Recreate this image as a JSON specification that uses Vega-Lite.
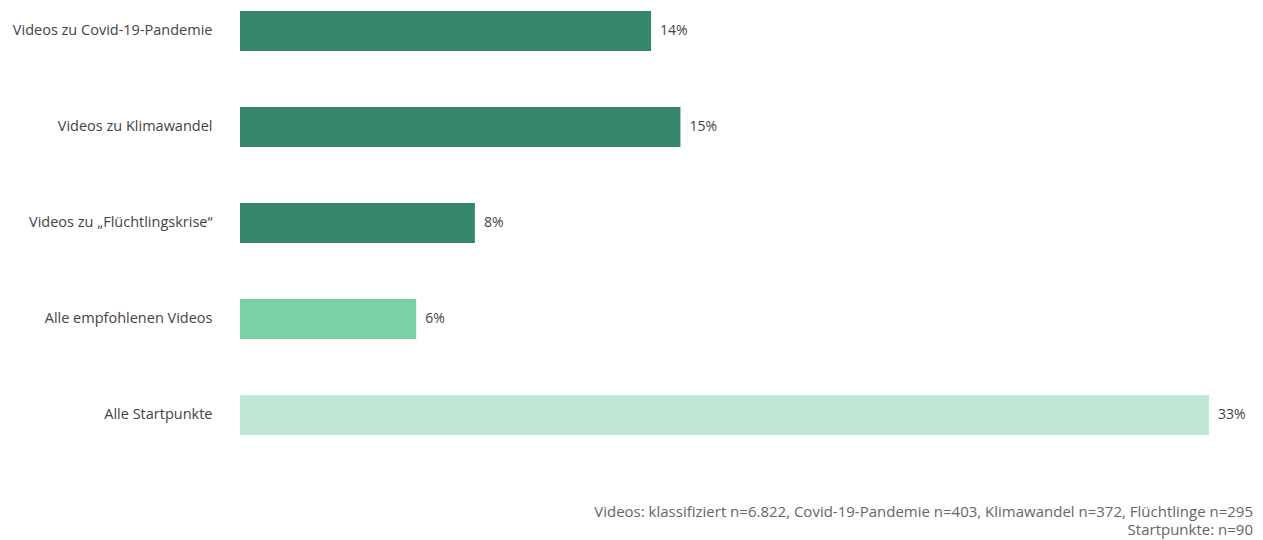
{
  "$schema": "https://vega.github.io/schema/vega-lite/v6.json",
  "autosize": "none",
  "padding": {"left": 240, "top": 11, "right": 10, "bottom": 105},
  "width": 1013,
  "height": 424,
  "background": "white",
  "config": {"view": {"stroke": null}, "font": "Open Sans"},
  "title": {
    "text": ["Videos: klassifiziert n=6.822, Covid-19-Pandemie n=403, Klimawandel n=372, Flüchtlinge n=295", "Startpunkte: n=90"],
    "orient": "bottom",
    "anchor": "end",
    "frame": "group",
    "offset": 70,
    "fontSize": 15,
    "fontWeight": "normal",
    "color": "#666666",
    "lineHeight": 18,
    "font": "Open Sans"
  },
  "data": {
    "values": [
      {"kategorie": "Videos zu Covid-19-Pandemie", "anteil": 14, "label": "14%", "gruppe": "thema"},
      {"kategorie": "Videos zu Klimawandel", "anteil": 15, "label": "15%", "gruppe": "thema"},
      {"kategorie": "Videos zu „Flüchtlingskrise“", "anteil": 8, "label": "8%", "gruppe": "thema"},
      {"kategorie": "Alle empfohlenen Videos", "anteil": 6, "label": "6%", "gruppe": "alle"},
      {"kategorie": "Alle Startpunkte", "anteil": 33, "label": "33%", "gruppe": "start"}
    ]
  },
  "encoding": {
    "y": {
      "field": "kategorie",
      "type": "nominal",
      "sort": null,
      "scale": {"paddingInner": 0.5833, "paddingOuter": 0},
      "axis": {
        "title": null,
        "domain": false,
        "ticks": false,
        "labelPadding": 28,
        "labelFontSize": 14.5,
        "labelColor": "#444444",
        "labelFont": "Open Sans",
        "labelLimit": 300
      }
    },
    "x": {
      "field": "anteil",
      "type": "quantitative",
      "scale": {"domain": [0, 34.5], "nice": false, "zero": true},
      "axis": null
    }
  },
  "layer": [
    {
      "mark": {"type": "bar"},
      "encoding": {
        "color": {
          "field": "gruppe",
          "type": "nominal",
          "scale": {"domain": ["thema", "alle", "start"], "range": ["#35876A", "#79D1A6", "#BEE8D5"]},
          "legend": null
        }
      }
    },
    {
      "mark": {"type": "text", "align": "left", "dx": 9, "fontSize": 14, "color": "#444444", "font": "Open Sans"},
      "encoding": {"text": {"field": "label"}}
    }
  ]
}
